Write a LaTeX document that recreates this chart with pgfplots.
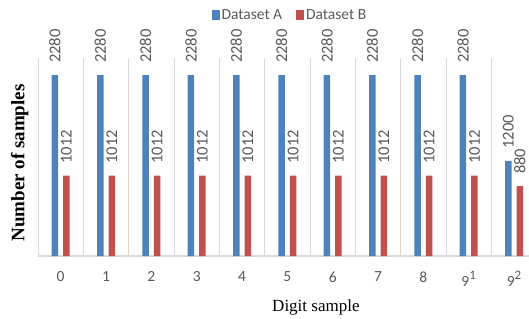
\documentclass[border=0pt]{standalone}
\usepackage{fontspec}
\setmainfont{Liberation Serif}
\newfontfamily\carlito{Carlito}
\usepackage{pgfplots}
\pgfplotsset{compat=1.18}
\definecolor{barA}{HTML}{4F81BD}
\definecolor{barB}{HTML}{C0504D}
\definecolor{txtgray}{HTML}{595959}
\definecolor{gridgray}{HTML}{D9D9D9}
\newcommand\sups[1]{\raisebox{0.45em}{\fontsize{13}{13}\selectfont #1}}
\begin{document}
\begin{tikzpicture}
\path[use as bounding box] (-38pt,-62pt) rectangle (491pt,256pt);
\begin{axis}[
  at={(0pt,0pt)}, anchor=south west,
  scale only axis, width=491pt, height=198pt,
  ybar, bar width=6.5pt,
  ymin=0, ymax=2495,
  xmin=-0.5, xmax=10.33,
  xtick={0,...,10},
  xticklabels={0,1,2,3,4,5,6,7,8,{9\sups{1}},{9\sups{2}}},
  xticklabel style={font=\carlito\fontsize{15.5}{15.5}\selectfont, text=txtgray, yshift=-12pt},
  ytick=\empty,
  major tick length=0pt, minor tick length=0pt,
  minor xtick={-0.5,0.5,...,10.5},
  xminorgrids, minor grid style={gridgray, line width=0.8pt},
  axis x line*=bottom, axis y line*=left,
  x axis line style={gridgray, line width=1.2pt},
  y axis line style={draw=none},
  xlabel={Digit sample},
  xlabel style={at={(axis description cs:0.566,-0.258)}, anchor=center, font=\fontsize{17}{17}\selectfont},
  ylabel={\bfseries Number of samples},
  ylabel style={at={(axis description cs:-0.037,0.47)}, anchor=center, font=\fontsize{19}{19}\selectfont},
  legend style={at={(axis description cs:0.513,1.217)}, anchor=center, draw=none, fill=none,
    font=\carlito\fontsize{15.5}{15.5}\selectfont, text=txtgray,
    /tikz/every even column/.append style={column sep=12pt}},
  legend columns=2,
  legend image code/.code={\fill[#1] (0pt,-4.5pt) rectangle (8pt,5pt);},
  nodes near coords={\pgfmathprintnumber[fixed,precision=0,1000 sep={},assume math mode=true]{\pgfplotspointmeta}},
  every node near coord/.append style={rotate=90, anchor=west, font=\carlito\fontsize{16.5}{16.5}\selectfont, text=txtgray, inner sep=0pt, inner xsep=12pt},
]
\addplot[fill=barA, draw=none, bar shift=-5.75pt] coordinates {
 (0,2280) (1,2280) (2,2280) (3,2280) (4,2280) (5,2280) (6,2280) (7,2280) (8,2280) (9,2280) (10,1200)};
\addlegendentry{Dataset A}
\addplot[fill=barB, draw=none, bar shift=5.75pt] coordinates {
 (0,1012) (1,1012) (2,1012) (3,1012) (4,1012) (5,1012) (6,1012) (7,1012) (8,1012) (9,1012) (10,880)};
\addlegendentry{Dataset B}
\end{axis}
\end{tikzpicture}
\end{document}
